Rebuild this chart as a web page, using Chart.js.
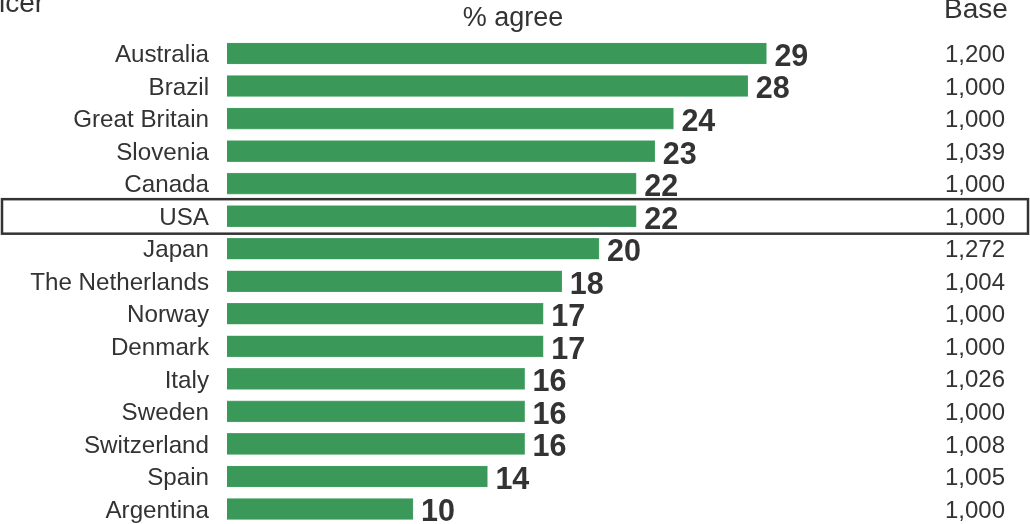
<!DOCTYPE html>
<html><head><meta charset="utf-8">
<script src="https://cdn.jsdelivr.net/npm/chart.js@4/dist/chart.umd.min.js"></script>
<style>html,body{margin:0;padding:0;background:#fff}#wrap{width:1030px;height:524px;position:relative}</style>
</head><body><div id="wrap"><canvas id="c" width="1030" height="524"></canvas></div>
<script>
const countries = ["Australia","Brazil","Great Britain","Slovenia","Canada","USA","Japan","The Netherlands","Norway","Denmark","Italy","Sweden","Switzerland","Spain","Argentina"];
const agree = [29,28,24,23,22,22,20,18,17,17,16,16,16,14,10];
const baseSizes = ["1,200","1,000","1,000","1,039","1,000","1,000","1,272","1,004","1,000","1,000","1,026","1,000","1,008","1,005","1,000"];
const highlight = "USA";
const titleText = "% agree";
const baseTitle = "Base";
const cutTitle = "icer";

const FONT = "'Liberation Sans', Arial, Helvetica, sans-serif";
const TXT = "#333333";

const labelsPlugin = {
  id: 'labels',
  afterDatasetsDraw(chart) {
    const ctx = chart.ctx;
    const y = chart.scales.y;
    const meta = chart.getDatasetMeta(0);
    ctx.save();
    ctx.fillStyle = TXT;
    ctx.textBaseline = 'middle';
    ctx.font = "27px " + FONT;
    ctx.textAlign = 'center';
    ctx.fillText(titleText, 513, 19);
    ctx.font = "28px " + FONT;
    ctx.fillText(baseTitle, 976, 10);
    ctx.textAlign = 'left';
    ctx.fillText(cutTitle, -1, 4);
    countries.forEach((c, i) => {
      const py = y.getPixelForValue(i);
      ctx.font = "24.2px " + FONT;
      ctx.textAlign = 'right';
      ctx.fillStyle = TXT;
      ctx.fillText(c, 209, py + 2);
      ctx.font = "24px " + FONT;
      ctx.fillText(baseSizes[i], 1005, py + 2);
      const bar = meta.data[i];
      ctx.font = "bold 30.5px " + FONT;
      ctx.textAlign = 'left';
      ctx.fillText(String(agree[i]), bar.x + 8, py + 4);
      if (c === highlight) {
        ctx.strokeStyle = '#333';
        ctx.lineWidth = 2.5;
        ctx.strokeRect(2, py - 17, 1026, 34.5);
      }
    });
    ctx.restore();
  }
};

new Chart(document.getElementById('c'), {
  type: 'bar',
  data: {
    labels: countries,
    datasets: [{
      data: agree,
      backgroundColor: '#3a9858',
      borderColor: '#5aab72',
      borderWidth: 0.6,
      barThickness: 21,
      clip: false
    }]
  },
  options: {
    indexAxis: 'y',
    responsive: false,
    animation: false,
    devicePixelRatio: 1,
    layout: { padding: { left: 227, right: 59, top: 53.5, bottom: 15 } },
    scales: {
      x: { display: false, min: 0, max: 40 },
      y: { display: false, offset: false }
    },
    plugins: { legend: { display: false }, tooltip: { enabled: false } }
  },
  plugins: [labelsPlugin]
});
</script>
</body></html>
